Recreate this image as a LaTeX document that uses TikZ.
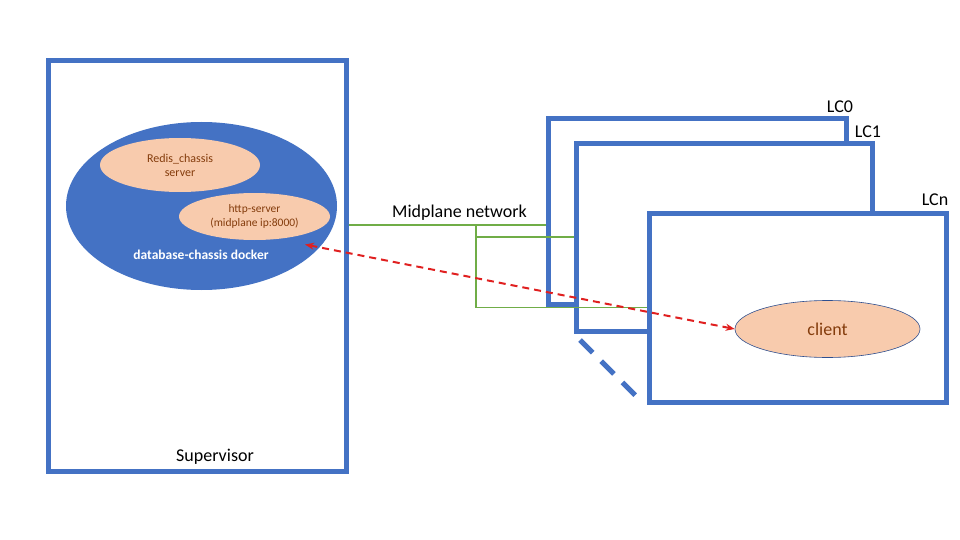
\documentclass[tikz,border=0pt]{standalone}
\usepackage{fontspec}
\setmainfont{Carlito}
\usetikzlibrary{arrows.meta,shapes.geometric}
\definecolor{bblue}{HTML}{4472C4}
\definecolor{ggreen}{HTML}{70AD47}
\definecolor{rred}{HTML}{E02020}
\definecolor{peach}{HTML}{F8CBAD}
\definecolor{brownt}{HTML}{843C0C}
\definecolor{dblue}{HTML}{2F4F8F}
\tikzset{
  card/.style={draw=bblue, line width=5pt, fill=white, inner sep=0pt},
  lbl/.style={font=\fontsize{18}{21}\selectfont, inner sep=0pt},
  peachell/.style={ellipse, fill=peach, inner sep=0pt, text=brownt, align=center},
  net/.style={draw=ggreen, line width=1.5pt},
  rpc/.style={draw=rred, line width=2pt, dash pattern=on 7pt off 5pt, {Stealth[length=9pt,width=7pt]}-{Stealth[length=9pt,width=7pt]}},
}
\begin{document}
\begin{tikzpicture}[x=1pt,y=-1pt]
\useasboundingbox (0,0) rectangle (960,540);
% Supervisor
\node[card, minimum width=298pt, minimum height=410pt] (sup) at (197.5,266) {};
\node[ellipse, fill=bblue, minimum width=271pt, minimum height=168pt, inner sep=0pt] (db) at (201.5,206) {};
\node[peachell, minimum width=160pt, minimum height=54pt, font=\fontsize{12}{14}\selectfont] (redis) at (180,165) {Redis\_chassis\\server};
\node[peachell, minimum width=151pt, minimum height=47pt, font=\fontsize{11.5}{14.5}\selectfont] (http) at (254.5,216.5) {http-server\\(midplane ip:8000)};
\node[text=white, font=\fontsize{13.5}{16}\selectfont\bfseries, inner sep=0pt] (dblbl) at (201,255) {database-chassis docker};
\node[lbl] (suplbl) at (215,457) {Supervisor};
% Line cards
\node[card, minimum width=298pt, minimum height=185pt] (lc0) at (697,211.5) {};
\node[card, minimum width=296pt, minimum height=187pt] (lc1) at (724,237.5) {};
\node[card, minimum width=297pt, minimum height=189pt] (lcn) at (797.5,307.5) {};
\node[lbl] (lc0lbl) at (840,107) {LC0};
\node[lbl] (lc1lbl) at (868,132) {LC1};
\node[lbl] (lcnlbl) at (935,200) {LCn};
\node[ellipse, draw=dblue, line width=0.6pt, fill=peach, minimum width=185pt, minimum height=57pt, inner sep=0pt, text=brownt, font=\fontsize{18}{21}\selectfont] (client) at (827.5,329) {client};
% more cards indicator
\coordinate (mA) at (580,340);
\coordinate (mB) at (638,398);
\draw[draw=bblue, line width=5pt, dash pattern=on 18pt off 12pt] (mA) -- (mB);
% midplane network
\coordinate (s0) at (sup.east |- 0,225);
\coordinate (j0) at (476,225);
\coordinate (j1) at (476,237);
\coordinate (j2) at (476,307.5);
\draw[net] (s0) -- (lc0.west |- s0);
\draw[net] (j0) -- (j2);
\draw[net] (j1) -- (lc1.west |- j1);
\draw[net] (j2) -- (lcn.west |- j2);
\node[lbl] (netlbl) at (459.5,213) {Midplane network};
% rpc arrow
\coordinate (ra) at (305,244.5);
\draw[rpc] (ra) -- (client.west);
\end{tikzpicture}
\end{document}
